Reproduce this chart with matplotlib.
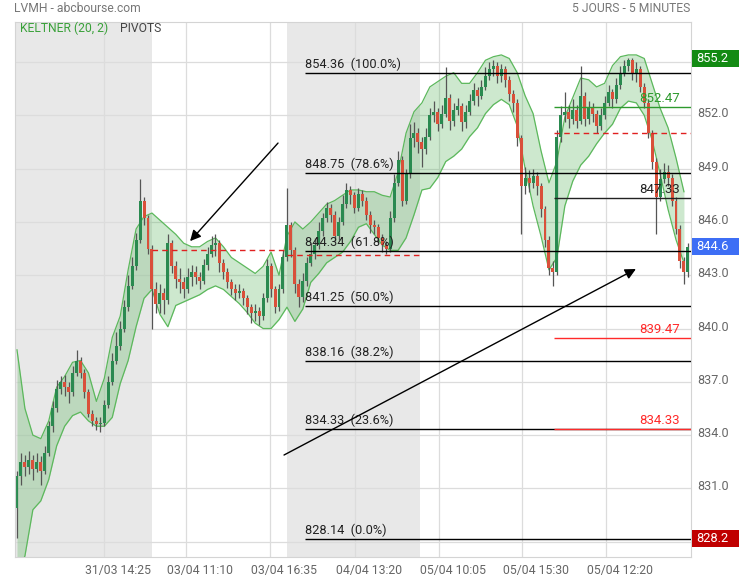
import numpy as np
import matplotlib
matplotlib.use("Agg")
import matplotlib.pyplot as plt
from matplotlib.patches import Rectangle
from matplotlib.transforms import ScaledTranslation

plt.rcParams['font.family'] = ['Roboto', 'DejaVu Sans']

# LVMH, 5 jours (bougies regroupees par 15 minutes)
closes = [831.7, 832.5, 832.2, 832.6, 832.1, 832.5, 832.0, 833.0, 834.5, 835.5,
          836.6, 837.0, 836.7, 836.4, 837.5, 838.2, 837.5, 836.4, 835.2, 834.8,
          834.6, 834.7, 835.7, 837.0, 838.2, 839.0, 840.0, 841.2, 842.4, 843.5,
          845.0, 847.2, 846.2, 844.5, 842.2, 841.4, 842.0, 841.6, 844.8, 843.5,
          842.8, 842.6, 842.2, 842.9, 843.2, 842.9, 842.7, 843.6, 844.2, 844.7,
          844.8, 843.7, 843.2, 842.6, 842.2, 842.0, 842.1, 841.7, 841.2, 840.9,
          841.0, 840.7, 841.7, 843.5, 842.2, 841.2, 842.2, 844.0, 845.8, 844.4,
          842.5, 841.8, 842.7, 843.7, 844.2, 844.7, 845.5, 846.2, 846.8, 846.4,
          845.2, 846.0, 847.0, 847.8, 847.5, 846.8, 847.6, 847.2, 846.4, 845.8,
          845.7, 845.1, 844.7, 844.5, 846.2, 848.2, 849.5, 847.2, 848.7, 850.7,
          851.0, 850.5, 850.1, 850.8, 852.0, 852.2, 851.5, 852.1, 853.0, 851.7,
          852.3, 852.5, 851.6, 852.2, 852.8, 853.4, 853.1, 853.6, 854.2, 854.6,
          854.8, 854.2, 854.6, 854.0, 853.2, 852.7, 850.7, 848.0, 848.5, 848.2,
          848.6, 848.0, 846.7, 845.0, 843.4, 843.2, 850.8, 852.0, 852.2, 851.8,
          852.3, 851.7, 853.1, 851.8, 852.4, 852.1, 851.4, 852.0, 852.7, 853.3,
          852.9, 853.7, 854.4, 854.8, 855.1, 854.3, 854.6, 853.6, 852.7, 851.0,
          849.4, 847.4, 848.4, 848.8, 848.5, 847.2, 845.6, 843.8, 843.2, 844.6]
opens = [829.9] + closes[:-1]
highs = [832.0, 833.0, 832.9, 833.1, 832.9, 833.0, 832.8, 833.4, 834.8, 835.9,
         837.1, 837.3, 837.4, 837.0, 837.9, 838.8, 838.4, 837.7, 836.6, 835.4,
         835.0, 835.0, 836.0, 837.3, 838.6, 839.8, 840.4, 841.6, 843.0, 844.0,
         845.4, 848.4, 847.4, 846.4, 844.7, 842.6, 842.5, 842.3, 845.3, 845.0,
         843.8, 843.4, 842.9, 843.4, 843.6, 843.5, 843.2, 843.9, 844.6, 845.2,
         845.3, 845.0, 843.9, 843.4, 842.8, 842.5, 842.5, 842.3, 841.9, 841.4,
         841.4, 841.2, 842.0, 843.9, 843.7, 842.4, 842.5, 844.4, 847.9, 846.0,
         844.6, 842.8, 843.1, 844.0, 844.8, 845.1, 846.0, 846.5, 847.1, 847.0,
         846.6, 846.3, 847.5, 848.2, 848.0, 847.7, 847.9, 847.8, 847.4, 846.6,
         846.1, 845.9, 845.3, 844.9, 846.6, 848.7, 850.0, 849.7, 849.0, 851.5,
         851.6, 851.3, 850.8, 851.3, 852.4, 852.8, 852.4, 852.6, 854.7, 853.2,
         852.7, 853.0, 852.7, 852.6, 853.2, 853.8, 853.6, 854.0, 854.7, 855.0,
         855.1, 855.0, 854.9, 854.8, 854.2, 853.4, 852.9, 850.9, 849.1, 848.9,
         849.0, 848.8, 848.2, 846.9, 845.2, 843.8, 851.2, 852.5, 853.3, 852.6,
         852.9, 852.6, 854.8, 853.3, 852.8, 852.7, 852.3, 852.4, 853.1, 853.7,
         853.5, 854.1, 854.8, 855.1, 855.2, 855.2, 855.0, 854.8, 853.8, 852.9,
         851.2, 849.6, 849.0, 849.3, 849.2, 848.7, 847.4, 845.8, 844.0, 844.8]
lows = [828.2, 831.2, 831.7, 831.8, 831.5, 831.9, 831.2, 831.8, 832.8, 834.2,
        835.3, 836.3, 836.2, 835.8, 836.2, 837.3, 837.2, 836.1, 835.0, 834.5,
        834.3, 834.2, 834.5, 835.5, 836.8, 838.0, 838.8, 839.8, 841.0, 842.2,
        843.3, 844.8, 845.8, 844.2, 840.0, 840.9, 840.9, 840.8, 841.4, 843.1,
        842.3, 842.0, 841.7, 842.0, 842.4, 842.5, 842.2, 842.5, 843.3, 844.0,
        844.1, 843.2, 842.8, 842.3, 841.9, 841.6, 841.7, 841.3, 840.8, 840.3,
        840.4, 840.2, 840.5, 841.5, 841.8, 840.9, 841.0, 842.0, 843.8, 844.0,
        842.0, 841.2, 841.5, 842.4, 843.5, 843.9, 844.5, 845.2, 846.0, 846.0,
        844.9, 845.0, 845.8, 846.8, 847.0, 846.5, 846.6, 846.9, 846.1, 845.4,
        845.3, 844.8, 844.3, 844.2, 844.3, 846.0, 848.0, 846.9, 847.0, 848.5,
        850.2, 849.9, 849.1, 849.8, 850.6, 851.6, 851.1, 851.3, 851.9, 851.2,
        851.4, 852.0, 851.1, 851.3, 852.0, 852.6, 852.5, 852.9, 853.4, 854.0,
        854.2, 853.8, 853.9, 853.6, 852.8, 852.2, 850.3, 845.3, 847.6, 847.7,
        847.9, 847.5, 846.3, 844.6, 843.0, 842.4, 843.0, 850.5, 851.6, 851.3,
        851.5, 851.3, 851.5, 851.4, 851.5, 851.6, 851.0, 851.2, 851.8, 852.5,
        852.4, 852.7, 853.5, 854.2, 854.5, 854.0, 853.9, 853.3, 852.4, 850.7,
        849.0, 845.3, 847.2, 848.2, 848.0, 846.9, 845.3, 843.4, 842.5, 842.9]

# Keltner (20, 2) : une valeur toutes les deux bougies
band_x = list(range(0, 170, 2))
upper = [838.8, 835.5, 834.0, 833.8, 834.8, 836.7, 837.3, 838.1, 838.2, 837.5,
         835.9, 837.2, 839.5, 840.7, 843.3, 845.6, 846.3,
         846.5, 846.1, 845.7, 845.3, 844.8, 844.6, 844.6, 844.9, 845.1, 844.6,
         844.0, 843.7, 843.4, 843.1, 843.5, 844.3, 843.0,
         845.2, 846.0, 845.6, 846.0, 846.5, 847.0, 847.2, 847.5, 847.8, 847.8,
         847.7, 847.7, 847.5, 847.4, 848.8, 851.0, 852.2,
         852.7, 853.6, 853.9, 854.2, 854.4, 853.8, 853.8, 854.4, 855.1, 855.3,
         855.4, 855.2, 854.4, 853.1, 852.1, 850.0, 848.2,
         849.4, 851.9, 853.0, 854.1, 854.0, 853.6, 853.8, 854.8, 855.3, 855.4,
         855.4, 855.2, 853.8, 852.4, 851.3, 849.6, 847.7]
lower = [826.2, 827.2, 829.8, 830.3, 831.5, 833.4, 834.5, 835.1, 835.3, 834.8,
         834.5, 834.5, 835.0, 836.9, 838.2, 840.1, 841.7,
         842.2, 840.8, 840.1, 841.3, 841.5, 841.7, 841.9, 842.2, 842.4, 842.2,
         841.8, 841.4, 840.9, 840.3, 840.0, 840.0, 840.5,
         841.2, 840.4, 841.1, 842.6, 843.1, 843.7, 844.0, 844.3, 844.9, 845.7,
         845.9, 845.3, 844.7, 844.4, 844.4, 845.1, 846.4,
         847.8, 847.9, 848.5, 849.4, 849.7, 850.1, 850.8, 851.3, 852.1, 852.6,
         852.9, 852.6, 851.4, 849.0, 846.9, 845.2, 843.3,
         844.0, 846.9, 848.3, 849.2, 849.7, 850.4, 851.0, 851.5, 852.4, 852.8,
         852.7, 852.0, 850.6, 848.7, 846.7, 845.0, 843.7]

# Fibonacci
fib_levels = [854.36, 848.75, 844.34, 841.25, 838.16, 834.33, 828.14]
fib_pcts = [100.0, 78.6, 61.8, 50.0, 38.2, 23.6, 0.0]

# pivots du dernier jour
piv_vals = [852.47, 847.33, 839.47, 834.33]
piv_colors = ['#2e9a2e', '#222222', '#ff2a2a', '#ff2a2a']
piv_mid_last = 851.0
piv_mid_prev = [844.42, 844.14]

tick_pos = [21.84, 42.57, 63.7, 85.04, 106.2, 127.2, 148.4]
tick_labels = ['31/03 14:25', '03/04 11:10', '03/04 16:35', '04/04 13:20',
               '05/04 10:05', '05/04 15:30', '05/04 12:20']

last_high, last_price, last_low = 855.2, 844.6, 828.2

fig = plt.figure(figsize=(7.39, 5.80), dpi=100)
W, H = 739, 580
ax = fig.add_axes([15 / W, 1 - 557 / H, (690.7 - 15) / W, (557 - 21.7) / H])
ax.set_xlim(-0.5, 169.7)
ax.set_ylim(827.14, 857.27)

# jours alternes
ax.axvspan(-0.5, 34, color='#e8e8e8', lw=0, zorder=0)
ax.axvspan(68, 101.5, color='#e8e8e8', lw=0, zorder=0)

ax.set_axisbelow(True)
ax.grid(True, color='#dcdcdc', lw=0.9)
for s in ax.spines.values():
    s.set_color('#d4d4d4')

# bandes de Keltner
ax.fill_between(band_x, lower, upper, color='#4caf50', alpha=0.28, lw=0, zorder=1)
ax.plot(band_x, upper, color='#5cb85c', lw=0.9, zorder=1.2)
ax.plot(band_x, lower, color='#5cb85c', lw=0.9, zorder=1.2)

# chandeliers
x = np.arange(len(closes))
o = np.array(opens)
c = np.array(closes)
h = np.maximum(np.array(highs), np.maximum(o, c))
l = np.minimum(np.array(lows), np.minimum(o, c))
up = c >= o
ax.vlines(x, l, h, color='#555555', lw=0.9, zorder=2)
ax.bar(x[up], (c - o)[up], bottom=o[up], width=0.75, color='#2a8a50', lw=0, zorder=2.5)
ax.bar(x[~up], (o - c)[~up], bottom=c[~up], width=0.75, color='#d9503a', lw=0, zorder=2.5)

# retracements de Fibonacci
ax.hlines(fib_levels, 72.5, 169.7, color='black', lw=1, zorder=3)
for lvl, pct in zip(fib_levels, fib_pcts):
    ax.annotate(f"{lvl:.2f}  ({pct:.1f}%)", (72.5, lvl), xytext=(0, 1.5),
                textcoords='offset points', ha='left', va='bottom',
                fontsize=9.2, color='#222222', zorder=4)

# pivots
ax.hlines(piv_mid_prev[0], 34, 68, color='#e02020', lw=1, linestyles=(0, (4, 3)), zorder=3)
ax.hlines(piv_mid_prev[1], 68, 101.5, color='#e02020', lw=1, linestyles=(0, (4, 3)), zorder=3)
ax.hlines(piv_mid_last, 135.3, 169.7, color='#e02020', lw=1, linestyles=(0, (4, 3)), zorder=3)
for v, col in zip(piv_vals, piv_colors):
    ax.hlines(v, 135.3, 169.7, color=col, lw=1, zorder=3.2)
    ax.annotate(f"{v:.2f}", (167.0, v), xytext=(0, 1.5), textcoords='offset points',
                ha='right', va='bottom', fontsize=9.5, color=col, zorder=4)

# fleches
arrow = dict(arrowstyle='-|>', color='black', lw=1, mutation_scale=16,
             shrinkA=0, shrinkB=0)
ax.annotate('', xy=(43.6, 844.92), xytext=(65.75, 850.44), arrowprops=arrow, zorder=5)
ax.annotate('', xy=(155.9, 843.35), xytext=(67.26, 832.88), arrowprops=arrow, zorder=5)

# axes
yt = np.arange(828, 856, 3)
ax.set_yticks(yt)
ax.set_yticklabels(['' if v in (828, 855) else f"{v:.1f}" for v in yt])
ax.yaxis.tick_right()
ax.tick_params(axis='y', length=0, pad=5, labelsize=9, labelcolor='#666666')
for lab in ax.get_yticklabels():
    lab.set_transform(lab.get_transform() + ScaledTranslation(0, 3 / 100, fig.dpi_scale_trans))
ax.set_xticks(tick_pos)
ax.set_xticklabels(tick_labels)
ax.tick_params(axis='x', length=0, pad=5, labelsize=8.8, labelcolor='#666666')
for lab in ax.get_xticklabels():
    lab.set_transform(lab.get_transform() + ScaledTranslation(14 / 100, 0, fig.dpi_scale_trans))

# titres
fig.text(14 / W, 1 - 8 / H, 'LVMH - abcbourse.com', ha='left', va='center',
         fontsize=8.7, color='#777777')
fig.text(690 / W, 1 - 8 / H, '5 JOURS - 5 MINUTES', ha='right', va='center',
         fontsize=8.7, color='#777777')
fig.text(20 / W, 1 - 28 / H, 'KELTNER (20, 2)', ha='left', va='center',
         fontsize=8.7, color='#3aa13a')
fig.text(120 / W, 1 - 28 / H, 'PIVOTS', ha='left', va='center',
         fontsize=8.7, color='#444444')

# etiquettes plus haut / dernier / plus bas
for val, col in [(last_high, '#138a13'), (last_price, '#3d6ef5'), (last_low, '#c00000')]:
    yc = ax.transData.transform((0, val))[1] / fig.dpi / 5.80
    fig.add_artist(Rectangle((692 / W, yc - 8.5 / H), 47 / W, 17 / H,
                             transform=fig.transFigure, color=col, lw=0))
    fig.text(696 / W, yc, f"{val:.1f}", ha='left', va='center', fontsize=9.3,
             color='white')

fig.savefig('out.png', dpi=100)
